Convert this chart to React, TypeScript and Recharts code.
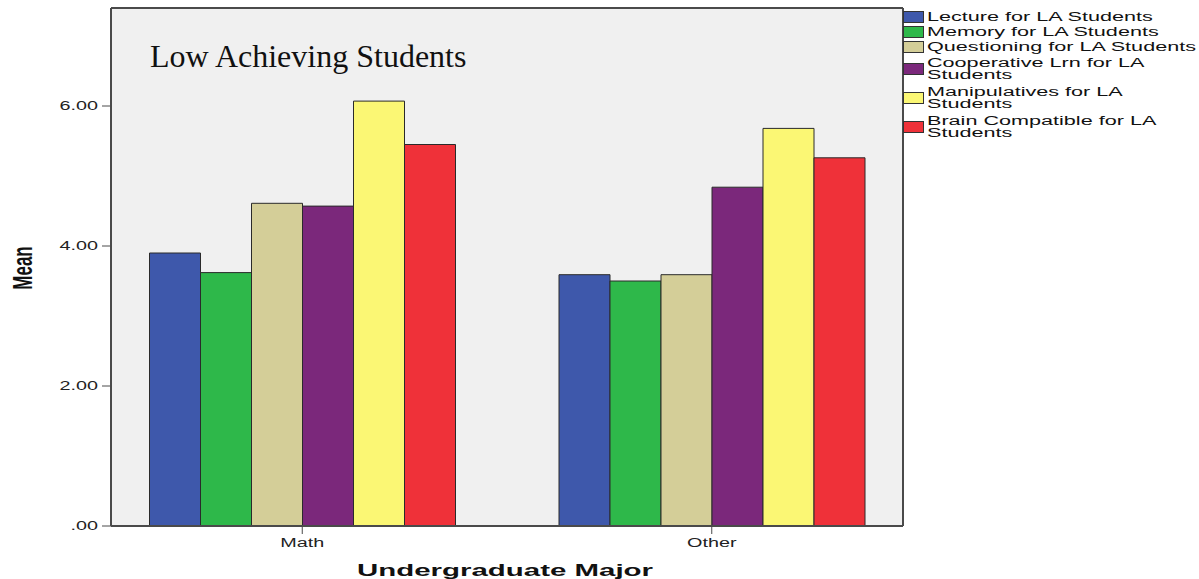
import { BarChart, Bar, XAxis, YAxis, CartesianGrid, Legend, Customized } from 'recharts';

// group means per teaching method, by undergraduate major
const majors = ['Math', 'Other'];
const lecture = [3.9, 3.59];
const memory = [3.62, 3.5];
const questioning = [4.61, 3.59];
const cooperative = [4.57, 4.84];
const manipulatives = [6.07, 5.68];
const brainCompatible = [5.45, 5.26];
const yTicks = [0, 2, 4, 6];

const series = [
  { key: 'lecture', name: 'Lecture for LA Students', color: '#3e58ab', values: lecture },
  { key: 'memory', name: 'Memory for LA Students', color: '#2eb84a', values: memory },
  { key: 'questioning', name: 'Questioning for LA Students', color: '#d4ce98', values: questioning },
  { key: 'cooperative', name: 'Cooperative Lrn for LA\nStudents', color: '#7b287b', values: cooperative },
  { key: 'manipulatives', name: 'Manipulatives for LA\nStudents', color: '#fbf774', values: manipulatives },
  { key: 'brain', name: 'Brain Compatible for LA\nStudents', color: '#ef3139', values: brainCompatible },
];

const rows = majors.map((major, i) => {
  const row: Record<string, string | number> = { major };
  series.forEach((s) => {
    row[s.key] = s.values[i];
  });
  return row;
});

// SPSS output is stretched sideways, so the sans text gets widened too
const STRETCH = 1.65;
const SANS = '"Liberation Sans", Arial, sans-serif';
const FRAME = '#4a4a4a';

const fmt = (v: number) => (v === 0 ? '.00' : v.toFixed(2));

const YTick = ({ x, y, payload }: any) => (
  <g transform={`translate(${x},${y})`}>
    <text transform={`scale(${STRETCH},1)`} textAnchor="end" dy="0.35em" fontSize={12} fontFamily={SANS} fill="#222">
      {fmt(payload.value)}
    </text>
  </g>
);

const XTick = ({ x, y, payload }: any) => (
  <g transform={`translate(${x},${y})`}>
    <text transform={`scale(${STRETCH},1)`} textAnchor="middle" dy="0.71em" fontSize={12} fontFamily={SANS} fill="#222">
      {payload.value}
    </text>
  </g>
);

const XTitle = ({ viewBox }: any) => (
  <g transform={`translate(${viewBox.x + viewBox.width / 2 - 2},${viewBox.y + 50})`}>
    <text transform="scale(1.84,1)" textAnchor="middle" fontSize={16} fontWeight="bold" fontFamily={SANS} fill="#111">
      Undergraduate Major
    </text>
  </g>
);

const YTitle = ({ viewBox }: any) => (
  <g transform={`translate(${viewBox.x + 1},${viewBox.y + viewBox.height / 2 + 1}) scale(1.6,1) rotate(-90)`}>
    <text textAnchor="middle" dominantBaseline="central" fontSize={17} fontWeight="bold" fontFamily={SANS} fill="#111">
      Mean
    </text>
  </g>
);

const LegendBox = () => (
  <div style={{ fontFamily: SANS, color: '#111' }}>
    {series.map((s) => {
      const lines = s.name.split('\n');
      return (
        <div key={s.key} style={{ display: 'flex', alignItems: 'center', height: lines.length > 1 ? 29 : 15 }}>
          <span
            style={{
              width: 21,
              height: 12,
              background: s.color,
              border: '1px solid #333',
              boxSizing: 'border-box',
              flexShrink: 0,
            }}
          />
          <div
            style={{
              marginLeft: 3,
              fontSize: 12,
              lineHeight: '12px',
              whiteSpace: 'nowrap',
              transform: 'scaleX(1.8)',
              transformOrigin: 'left center',
            }}
          >
            {lines.map((l) => (
              <div key={l}>{l}</div>
            ))}
          </div>
        </div>
      );
    })}
  </div>
);

export default function App() {
  return (
    <div style={{ position: 'absolute', left: 0, top: 0, background: '#fff' }}>
      <BarChart
        width={1199}
        height={579}
        data={rows}
        margin={{ top: 8, right: 296, bottom: 0, left: 21 }}
        barCategoryGap={52}
        barGap={0}
      >
        <CartesianGrid
          fill="#f0f0f0"
          stroke={FRAME}
          strokeWidth={2}
          horizontalCoordinatesGenerator={({ offset }: any) => [offset.top, offset.top + offset.height]}
          verticalCoordinatesGenerator={({ offset }: any) => [offset.left, offset.left + offset.width]}
        />
        <XAxis
          dataKey="major"
          height={53}
          padding={{ left: -13.5, right: -13.5 }}
          tickSize={8}
          tickMargin={4}
          axisLine={{ stroke: FRAME, strokeWidth: 2 }}
          tickLine={{ stroke: FRAME }}
          tick={<XTick />}
          label={<XTitle />}
        />
        <YAxis
          width={90}
          domain={[0, 7.4]}
          ticks={yTicks}
          tickSize={9}
          tickMargin={4}
          axisLine={{ stroke: FRAME, strokeWidth: 2 }}
          tickLine={{ stroke: FRAME }}
          tick={<YTick />}
          label={<YTitle />}
        />
        <Legend
          layout="vertical"
          align="center"
          verticalAlign="middle"
          wrapperStyle={{ left: 903, top: 9, width: 296 }}
          content={<LegendBox />}
        />
        {series.map((s) => (
          <Bar
            key={s.key}
            dataKey={s.key}
            name={s.name}
            fill={s.color}
            stroke="#2a2a2a"
            strokeWidth={1}
            isAnimationActive={false}
          />
        ))}
        <Customized
          component={
            <text x={150} y={67} fontSize={32} fontFamily='"Liberation Serif", "Times New Roman", serif' fill="#111">
              Low Achieving Students
            </text>
          }
        />
      </BarChart>
    </div>
  );
}
